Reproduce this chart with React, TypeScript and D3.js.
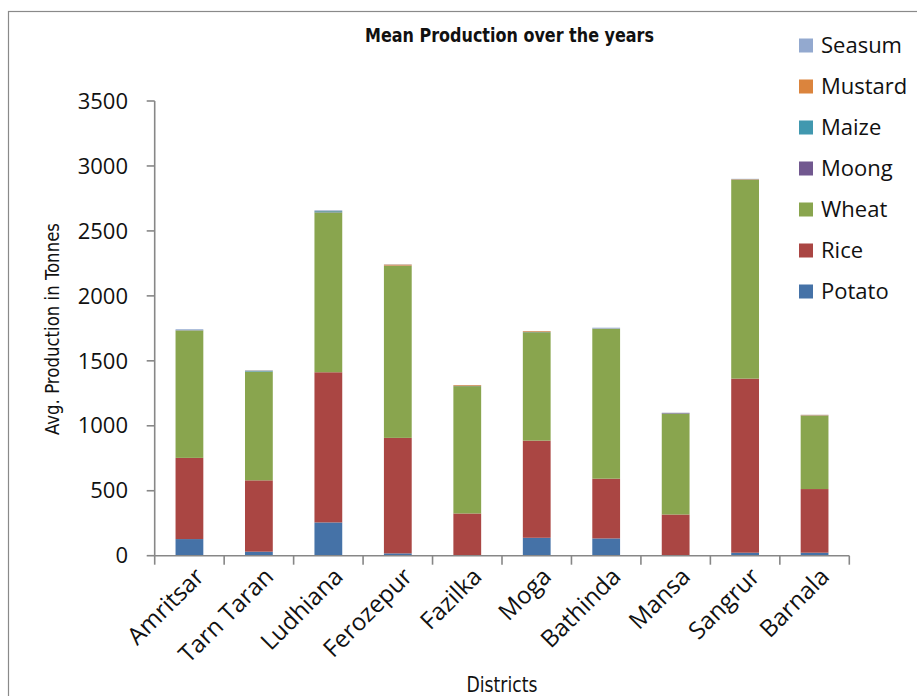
import React from 'react';
import * as d3 from 'd3';

const districts = ['Amritsar', 'Tarn Taran', 'Ludhiana', 'Ferozepur', 'Fazilka', 'Moga', 'Bathinda', 'Mansa', 'Sangrur', 'Barnala'];
const crops = ['Potato', 'Rice', 'Wheat', 'Moong', 'Maize', 'Mustard', 'Seasum'];
const colors = ['#4572A7', '#AA4643', '#89A54E', '#71588F', '#4198AF', '#DB843D', '#93A9CF'];

const potato = [128, 31, 256, 18, 3, 138, 133, 2, 23, 23];
const rice = [625, 549, 1156, 889, 322, 748, 460, 315, 1340, 490];
const wheat = [980, 837, 1230, 1324, 980, 834, 1153, 776, 1530, 564];
const moong = [1, 1, 2, 1, 1, 1, 1, 4, 1, 1];
const maize = [2, 5, 8, 1, 1, 1, 2, 1, 2, 2];
const mustard = [1, 2, 2, 8, 6, 6, 1, 1, 3, 4];
const seasum = [6, 3, 5, 2, 1, 1, 5, 2, 2, 1];
const yTicks = [0, 500, 1000, 1500, 2000, 2500, 3000, 3500];

const series = [potato, rice, wheat, moong, maize, mustard, seasum];

export default function App() {
  const rows = districts.map((d, i) => {
    const row: any = { district: d };
    crops.forEach((c, k) => (row[c] = series[k][i]));
    return row;
  });
  const stacked = d3.stack().keys(crops)(rows);

  const x = d3.scaleBand().domain(districts).range([154.7, 849.3]).padding(0);
  const y = d3.scaleLinear().domain([0, 3500]).range([555.7, 101]);
  const step = x.step();
  const barW = step * 0.4;
  const axisColor = '#878787';
  const sans = '"Open Sans", sans-serif';
  const narrow = '"Liberation Sans Narrow", "DejaVu Sans Condensed", sans-serif';

  const x0 = x.range()[0];
  const x1 = x.range()[1];

  return (
    <svg width={917} height={696} style={{ position: 'absolute', left: 0, top: 0, background: '#fff' }}>
      <rect x={8.5} y={11.5} width={1000} height={1000} fill="none" stroke="#8a8a8a" strokeWidth={1.2} />

      <text x={509.5} y={42} textAnchor="middle" fontFamily={narrow} fontWeight="bold" fontSize={20}
        textLength={289} lengthAdjust="spacingAndGlyphs" fill="#111">
        Mean Production over the years
      </text>

      {stacked.map((s, k) => (
        <g key={s.key} fill={colors[k]}>
          {s.map((d, i) => (
            <rect key={i} x={x(districts[i])! + (step - barW) / 2} width={barW}
              y={y(d[1])} height={Math.max(0, y(d[0]) - y(d[1]))} />
          ))}
        </g>
      ))}

      {/* y axis */}
      <line x1={x0} x2={x0} y1={y(3500)} y2={y(0)} stroke={axisColor} strokeWidth={1.6} />
      {yTicks.map(t => (
        <g key={t}>
          <line x1={x0 - 8} x2={x0} y1={y(t)} y2={y(t)} stroke={axisColor} strokeWidth={1.6} />
          <text x={128} y={y(t)} dy="0.35em" textAnchor="end" fontFamily={sans} fontSize={22} fill="#111">{t}</text>
        </g>
      ))}

      {/* x axis */}
      <line x1={x0} x2={x1} y1={y(0)} y2={y(0)} stroke={axisColor} strokeWidth={1.6} />
      {d3.range(districts.length + 1).map(i => (
        <line key={i} x1={x0 + i * step} x2={x0 + i * step} y1={y(0)} y2={y(0) + 9} stroke={axisColor} strokeWidth={1.6} />
      ))}
      {districts.map(d => {
        const cx = x(d)! + step / 2 + 16;
        const cy = 578;
        return (
          <text key={d} x={cx} y={cy} textAnchor="end" transform={`rotate(-45 ${cx} ${cy})`}
            fontFamily={sans} fontSize={24} fill="#111">{d}</text>
        );
      })}

      <text x={502} y={692} textAnchor="middle" fontFamily={narrow} fontSize={22}
        textLength={71} lengthAdjust="spacingAndGlyphs" fill="#111">Districts</text>
      <text transform="translate(59,329) rotate(-90)" textAnchor="middle" fontFamily={narrow} fontSize={19}
        textLength={212} lengthAdjust="spacingAndGlyphs" fill="#111">Avg. Production in Tonnes</text>

      {/* legend */}
      {crops.slice().reverse().map((c, j) => {
        const k = crops.length - 1 - j;
        const cy = 45.5 + j * 41;
        return (
          <g key={c}>
            <rect x={799} y={cy - 7} width={14} height={14} fill={colors[k]} />
            <text x={821} y={cy} dy="0.36em" fontFamily={sans} fontSize={22} fill="#111">{c}</text>
          </g>
        );
      })}
    </svg>
  );
}
